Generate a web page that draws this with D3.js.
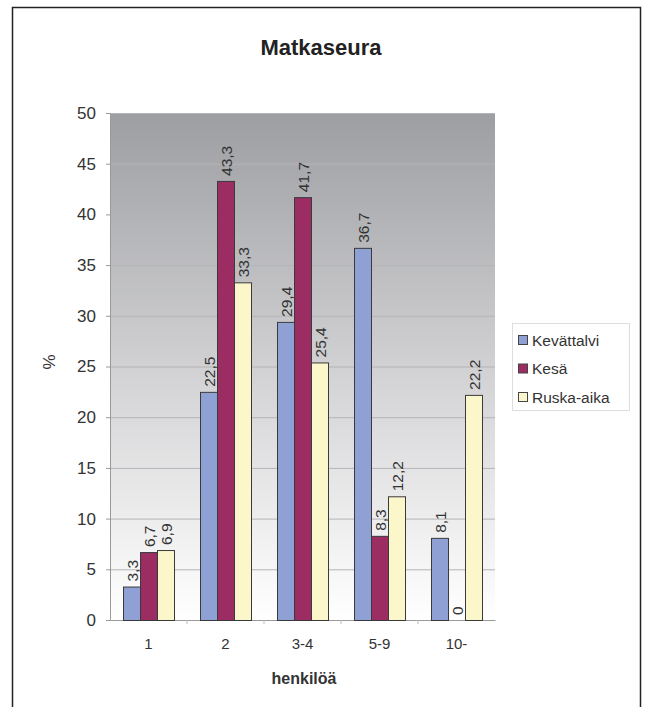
<!DOCTYPE html>
<html>
<head>
<meta charset="utf-8">
<script src="https://cdn.jsdelivr.net/npm/d3@7"></script>
<style>
  html, body { margin: 0; padding: 0; background: #fff; }
  svg { display: block; font-family: "Liberation Sans", Arial, Helvetica, sans-serif; }
</style>
</head>
<body>
<svg id="chart" width="645" height="707"></svg>
<script>
// Matkaseura: share (%) of travel party sizes by season
const categories = ["1", "2", "3-4", "5-9", "10-"];
const seriesNames = ["Kevättalvi", "Kesä", "Ruska-aika"];
const kevattalvi = [3.3, 22.5, 29.4, 36.7, 8.1];
const kesa = [6.7, 43.3, 41.7, 8.3, 0];
const ruskaAika = [6.9, 33.3, 25.4, 12.2, 22.2];
const yTicks = [0, 5, 10, 15, 20, 25, 30, 35, 40, 45, 50];

const seriesValues = [kevattalvi, kesa, ruskaAika];
const colors = ["#8fa0d4", "#9b2d63", "#fcf6cb"];

const svg = d3.select("#chart");
const plot = { left: 110, right: 495, top: 113, bottom: 620 };

// outer frame
svg.append("rect")
  .attr("x", 12.5).attr("y", 7.5)
  .attr("width", 628).attr("height", 720)
  .attr("fill", "none").attr("stroke", "#222").attr("stroke-width", 1.5);

// title
svg.append("text")
  .attr("x", 321).attr("y", 55)
  .attr("text-anchor", "middle")
  .attr("font-size", 22).attr("font-weight", "bold").attr("fill", "#222")
  .text("Matkaseura");

const x = d3.scaleBand().domain(categories).range([plot.left, plot.right]).padding(0);
const xs = d3.scaleBand().domain(seriesNames).range([13, x.bandwidth() - 13]).padding(0);
const y = d3.scaleLinear().domain([0, 50]).range([plot.bottom, plot.top]);

// plot background gradient
const defs = svg.append("defs");
const grad = defs.append("linearGradient").attr("id", "bg")
  .attr("x1", 0).attr("y1", 0).attr("x2", 0).attr("y2", 1);
grad.append("stop").attr("offset", "0%").attr("stop-color", "#9d9ea2");
grad.append("stop").attr("offset", "55%").attr("stop-color", "#d6d6d8");
grad.append("stop").attr("offset", "100%").attr("stop-color", "#ffffff");

svg.append("rect")
  .attr("x", plot.left).attr("y", plot.top)
  .attr("width", plot.right - plot.left).attr("height", plot.bottom - plot.top)
  .attr("fill", "url(#bg)");

// gridlines
svg.append("g").selectAll("line").data(yTicks.filter(d => d > 0)).join("line")
  .attr("x1", plot.left).attr("x2", plot.right)
  .attr("y1", d => y(d) + 0.5).attr("y2", d => y(d) + 0.5)
  .attr("stroke", "#b4b4b8").attr("stroke-width", 1);

// y axis
const yAxis = svg.append("g")
  .attr("transform", `translate(${plot.left},0)`)
  .call(d3.axisLeft(y).tickValues(yTicks).tickSize(4).tickPadding(10));
yAxis.select(".domain").attr("stroke", "#999");
yAxis.selectAll(".tick line").attr("stroke", "#999");
yAxis.selectAll(".tick text")
  .attr("font-size", 17).attr("fill", "#333")
  .attr("font-family", "'Liberation Sans', Arial, sans-serif");

// x axis
const xAxis = svg.append("g")
  .attr("transform", `translate(0,${plot.bottom})`)
  .call(d3.axisBottom(x).tickSize(0).tickPadding(18));
xAxis.select(".domain").attr("stroke", "#999");
xAxis.selectAll(".tick text")
  .attr("font-size", 15).attr("fill", "#333")
  .attr("font-family", "'Liberation Sans', Arial, sans-serif");
// separators between categories
svg.append("g").selectAll("line").data(categories.slice(1)).join("line")
  .attr("x1", d => x(d)).attr("x2", d => x(d))
  .attr("y1", plot.bottom).attr("y2", plot.bottom + 4)
  .attr("stroke", "#bbb");

// bars
const groups = svg.append("g").selectAll("g").data(categories).join("g")
  .attr("transform", d => `translate(${x(d)},0)`);

const cells = (d, i) => seriesNames.map((s, k) => ({ s, k, v: seriesValues[k][i] }));

groups.selectAll("rect").data(cells).join("rect")
  .attr("x", d => xs(d.s) + 0.5)
  .attr("y", d => y(d.v) + 0.5)
  .attr("width", xs.bandwidth())
  .attr("height", d => Math.max(0, y(0) - y(d.v)))
  .attr("fill", (d) => colors[d.k])
  .attr("stroke", "#3a3a3a").attr("stroke-width", 1);

// value labels, rotated
const fmt = v => String(v).replace(".", ",");
groups.selectAll("text.val").data(cells).join("text")
  .attr("class", "val")
  .attr("transform", d => `translate(${xs(d.s) + xs.bandwidth() / 2 + 6},${y(d.v) - 5}) rotate(-90)`)
  .attr("font-size", 15.5).attr("fill", "#333")
  .text(d => fmt(d.v));

// axis titles
svg.append("text")
  .attr("transform", "translate(55,362) rotate(-90)")
  .attr("text-anchor", "middle")
  .attr("font-size", 17).attr("fill", "#333")
  .text("%");

svg.append("text")
  .attr("x", 304).attr("y", 684)
  .attr("text-anchor", "middle")
  .attr("font-size", 16).attr("font-weight", "bold").attr("fill", "#333")
  .text("henkilöä");

// legend
const legend = svg.append("g").attr("transform", "translate(512,323)");
legend.append("rect")
  .attr("x", 0.5).attr("y", 0.5).attr("width", 117).attr("height", 87)
  .attr("fill", "#fff").attr("stroke", "#ddd");
const items = legend.selectAll("g").data(seriesNames).join("g")
  .attr("transform", (d, i) => `translate(0,${17 + i * 28.5})`);
items.append("rect")
  .attr("x", 6.5).attr("y", -4.5).attr("width", 9).attr("height", 9)
  .attr("fill", (d, i) => colors[i]).attr("stroke", "#444");
items.append("text")
  .attr("x", 20).attr("y", 5.5)
  .attr("font-size", 15.5).attr("fill", "#333")
  .text(d => d);
</script>
</body>
</html>
